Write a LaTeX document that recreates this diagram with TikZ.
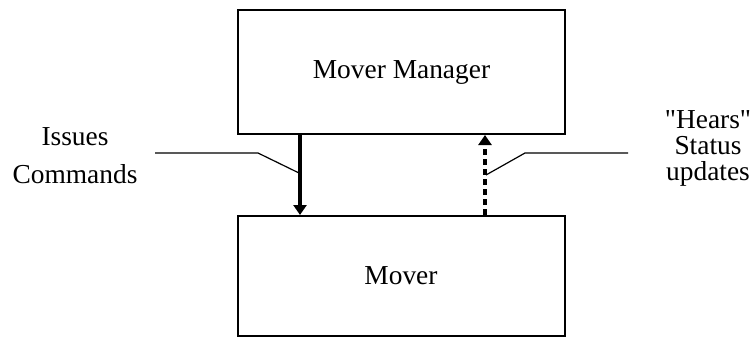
\documentclass[tikz,border=0pt]{standalone}
\usepackage{fontspec}
\setmainfont{Liberation Serif}[Ligatures=TeXOff]
\usetikzlibrary{arrows.meta}

\begin{document}
\begin{tikzpicture}[x=0.5pt,y=-0.5pt,
        every node/.style={font=\fontsize{13.7}{19}\selectfont},
        unit/.style={draw,line width=1pt,minimum width=163.5pt,inner sep=0pt},
        flow/.style={line width=1.6pt,-{Triangle[width=6.5pt,length=5pt]}},
        leader/.style={line width=0.6pt}]
        \useasboundingbox (0,0) rectangle (755,337);
        \node[unit,minimum height=62pt] (manager) at (401.5,72) {Mover Manager};
        \node[unit,minimum height=60pt] (mover) at (401,276) {Mover};
        \coordinate (cmdx) at (300,0);
        \coordinate (statx) at (485,0);
        \draw[flow] (manager.south -| cmdx) -- (mover.north -| cmdx);
        \draw[flow,dash pattern=on 3pt off 2pt] (mover.north -| statx) -- (manager.south -| statx);
        \node[align=center] (issues) at (75,156) {Issues\\Commands};
        \node[align=center,font=\fontsize{13.7}{13}\selectfont] (hears) at (708,148) {"Hears"\\Status\\updates};
        \coordinate (cmdstart) at (155,153);
        \coordinate (cmdbend) at (258,153);
        \coordinate (cmdend) at (299,173);
        \coordinate (statstart) at (628,153);
        \coordinate (statbend) at (525,153);
        \coordinate (statend) at (486,175);
        \draw[leader] (cmdstart) -- (cmdbend) -- (cmdend);
        \draw[leader] (statstart) -- (statbend) -- (statend);
\end{tikzpicture}
\end{document}
